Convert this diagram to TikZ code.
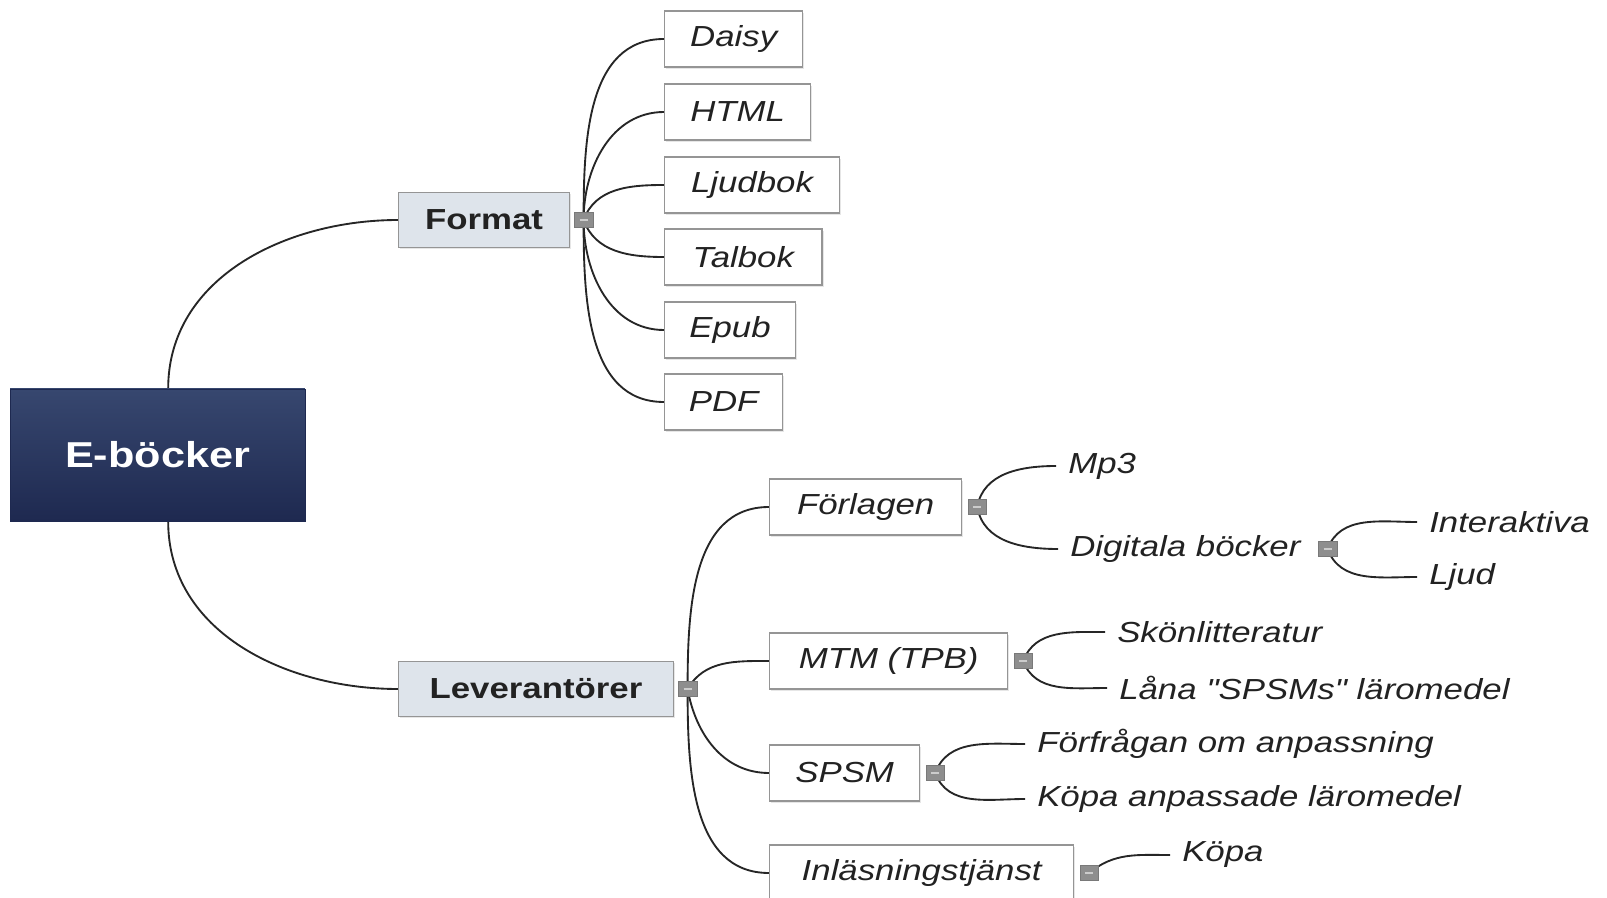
\documentclass[tikz,border=0pt]{standalone}
\usepackage{fontspec}
\setmainfont{Liberation Sans}[FakeStretch=1.2, Ligatures=TeXOff]
\usepackage{xcolor}
\usepackage{tikz}
\usetikzlibrary{positioning,shadows}
\pgfdeclarelayer{bg}
\pgfsetlayers{bg,main}
\definecolor{rootTop}{HTML}{37476F}
\definecolor{rootBot}{HTML}{1E2950}
\definecolor{topicFill}{HTML}{DEE4EB}
\definecolor{boxLine}{HTML}{959595}
\definecolor{knobFill}{HTML}{8E8E8E}
\definecolor{linkCol}{HTML}{262626}
\definecolor{txt}{HTML}{222222}

\begin{document}
\begin{tikzpicture}[x = .75pt, y = -.75pt,
  root/.style = {rectangle, top color = rootTop, bottom color = rootBot, draw = rootBot,
    text = white, font = \bfseries\fontsize{27}{32}\selectfont,
    minimum width = 221pt, minimum height = 99pt},
  topic/.style = {rectangle, draw = boxLine, fill = topicFill, line width = 1pt,
    text = txt, font = \bfseries\fontsize{21.75}{26}\selectfont,
    minimum height = 41pt, anchor = west,
    drop shadow = {shadow xshift = 1.2pt, shadow yshift = -1.2pt, opacity = .2}},
  leaf/.style = {rectangle, draw = boxLine, fill = white, line width = 1pt,
    text = txt, font = \itshape\fontsize{21.75}{26}\selectfont,
    minimum height = 42pt, anchor = west,
    drop shadow = {shadow xshift = 1.2pt, shadow yshift = -1.2pt, opacity = .2}},
  item/.style = {text = txt, font = \itshape\fontsize{21.75}{26}\selectfont,
    anchor = west, inner xsep = 9pt},
  knob/.style = {rectangle, fill = knobFill, draw = knobFill!85!black, line width = .4pt,
    minimum width = 14pt, minimum height = 11pt, inner sep = 0pt,
    path picture = {\draw[gray!40, line width = 1pt]
      ([xshift = -3pt]path picture bounding box.center) --
      ([xshift = 3pt]path picture bounding box.center);}},
  link/.style = {draw = linkCol, line width = 1.4pt}]
\useasboundingbox (0,0) rectangle (1607,898);

% root and main topics
\node[root] (ebok) at (157.5,455) {E-böcker};
\node[topic, minimum width = 128pt] (format) at (398,220) {Format};
\node[topic, minimum width = 206pt] (lever) at (398,689) {Leverantörer};
\node[knob, right = 3pt of format] (kformat) {};
\node[knob, right = 3pt of lever] (klever) {};

% formats
\node[leaf, minimum width = 103.5pt] (daisy) at (664,39) {Daisy};
\node[leaf, minimum width = 109.5pt] (html) at (664,112) {HTML};
\node[leaf, minimum width = 131pt] (ljudbok) at (664,185) {Ljudbok};
\node[leaf, minimum width = 118pt] (talbok) at (664,257) {Talbok};
\node[leaf, minimum width = 98pt] (epub) at (664,330) {Epub};
\node[leaf, minimum width = 88.5pt] (pdf) at (664,402) {PDF};

% suppliers
\node[leaf, minimum width = 144pt] (forlag) at (769,507) {Förlagen};
\node[leaf, minimum width = 178.5pt] (mtm) at (769,661) {MTM (TPB)};
\node[leaf, minimum width = 112.5pt] (spsm) at (769,773) {SPSM};
\node[leaf, minimum width = 228pt] (inlas) at (769,873) {Inläsningstjänst};
\node[knob, right = 4pt of forlag] (kforlag) {};
\node[knob, right = 4pt of mtm] (kmtm) {};
\node[knob, right = 4pt of spsm] (kspsm) {};
\node[knob, right = 4pt of inlas] (kinlas) {};

\node[item] (mp3) at (1056,466) {Mp3};
\node[item] (digi) at (1058,549) {Digitala böcker};
\node[knob, right = 4pt of digi] (kdigi) {};
\node[item] (inter) at (1417,522) {Interaktiva};
\node[item] (ljud) at (1417,577) {Ljud};
\node[item] (skon) at (1105,632) {Skönlitteratur};
\node[item] (lana) at (1107,688) {Låna "SPSMs" läromedel};
\node[item] (forfr) at (1025,744) {Förfrågan om anpassning};
\node[item] (kopanp) at (1025,799) {Köpa anpassade läromedel};
\node[item] (kopa) at (1170,855) {Köpa};

\begin{pgfonlayer}{bg}
\draw[link] ([xshift = 8pt]ebok.north) to[out = 90, in = 180] (format.west);
\draw[link] ([xshift = 8pt]ebok.south) to[out = -90, in = 180] (lever.west);
\foreach \n/\a in {daisy/90, html/90, ljudbok/70, talbok/-70, epub/-90, pdf/-90}
  \draw[link] (kformat.center) to[out = \a, in = 180] (\n.west);
\foreach \n/\a in {forlag/90, mtm/60, spsm/-80, inlas/-90}
  \draw[link] (klever.center) to[out = \a, in = 180] (\n.west);
\draw[link] (kforlag.center) to[out = 80, in = 180] (mp3.west);
\draw[link] (kforlag.center) to[out = -80, in = 180] (digi.west);
\draw[link] (kdigi.center) to[out = 70, in = 180] (inter.west);
\draw[link] (kdigi.center) to[out = -70, in = 180] (ljud.west);
\draw[link] (kmtm.center) to[out = 70, in = 180] (skon.west);
\draw[link] (kmtm.center) to[out = -70, in = 180] (lana.west);
\draw[link] (kspsm.center) to[out = 70, in = 180] (forfr.west);
\draw[link] (kspsm.center) to[out = -70, in = 180] (kopanp.west);
\draw[link] (kinlas.center) to[out = 40, in = 180] (kopa.west);
\end{pgfonlayer}
\end{tikzpicture}
\end{document}
